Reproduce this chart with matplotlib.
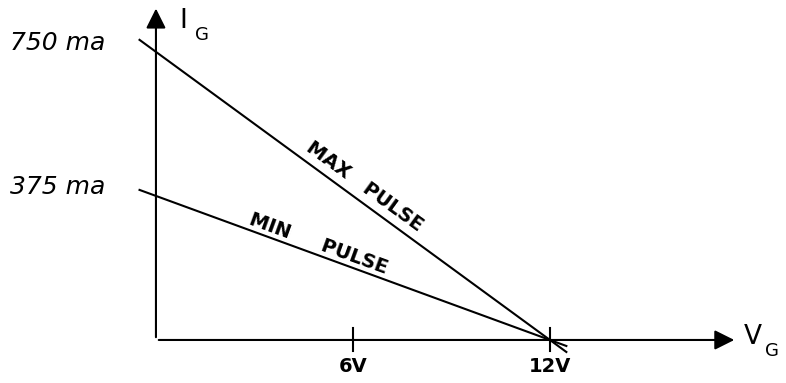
import matplotlib
matplotlib.use('Agg')
import matplotlib.pyplot as plt

# gate voltage (V) and gate current (mA) end points of the two pulse lines
v_pts = [-0.5, 12.5]
i_max = [750 * (1 - v / 12) for v in v_pts]
i_min = [375 * (1 - v / 12) for v in v_pts]
v_ticks = [6, 12]
v_tick_labels = ['6V', '12V']
i_labels = [750, 375]
i_label_text = ['750 ma', '375 ma']

fig = plt.figure(figsize=(7.86, 3.83), dpi=100)
ax = fig.add_axes([0, 0, 1, 1])
ax.set_xlim(-4.75, 19.19)
ax.set_ylim(-112, 885)
ax.axis('off')

lw = 1.5
# axes with arrow heads
ax.annotate('', xy=(0, 870), xytext=(0, 0),
            arrowprops=dict(arrowstyle='-|>', color='black', lw=lw, mutation_scale=30))
ax.annotate('', xy=(17.7, 0), xytext=(0, 0),
            arrowprops=dict(arrowstyle='-|>', color='black', lw=lw, mutation_scale=30))

ax.plot(v_pts, i_max, color='black', lw=lw)
ax.plot(v_pts, i_min, color='black', lw=lw)

for v, lab in zip(v_ticks, v_tick_labels):
    ax.plot([v, v], [-30, 30], color='black', lw=lw)
    ax.text(v, -45, lab, ha='center', va='top', fontsize=14, fontweight='bold')

for val, lab in zip(i_labels, i_label_text):
    ax.text(-4.45, val + 22, lab, ha='left', va='center', fontsize=18, style='italic')

ax.text(0.7, 830, 'I', ha='left', va='center', fontsize=19)
ax.text(1.2, 795, 'G', ha='left', va='center', fontsize=13)
ax.text(17.9, 8, 'V', ha='left', va='center', fontsize=19)
ax.text(18.55, -30, 'G', ha='left', va='center', fontsize=13)

ax.text(6.35, 400, 'MAX   PULSE', rotation=-36, rotation_mode='anchor',
        ha='center', va='center', fontsize=14, fontweight='bold')
ax.text(4.95, 250, 'MIN     PULSE', rotation=-20, rotation_mode='anchor',
        ha='center', va='center', fontsize=14, fontweight='bold')

fig.savefig('out.png', dpi=100)
